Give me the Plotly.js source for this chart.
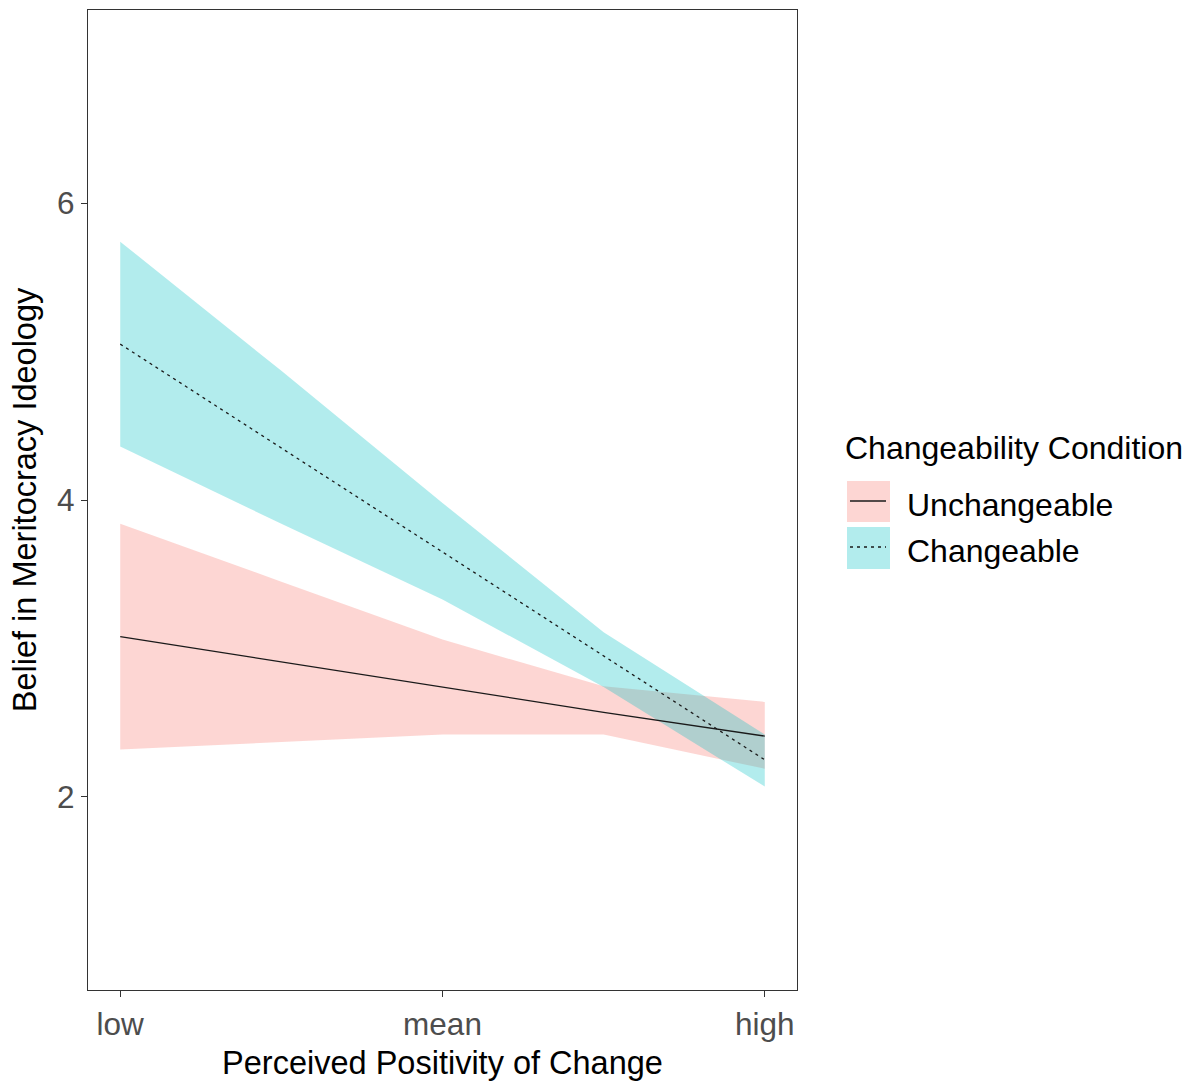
<!DOCTYPE html>
<html>
<head>
<meta charset="utf-8">
<script src="https://cdn.plot.ly/plotly-3.0.1.min.js"></script>
<style>html,body{margin:0;padding:0;background:#fff;}</style>
</head>
<body>
<div id="chart" style="width:1191px;height:1082px;"></div>
<script>
// ---- data ----
const xVals = [-1, -0.5, 0, 0.5, 1];
const tickVals = [-1, 0, 1];
const tickLabels = ['low', 'mean', 'high'];
const yTickVals = [2, 4, 6];
const groups = ['Unchangeable', 'Changeable'];
const unchFit = [3.08, 2.91, 2.74, 2.57, 2.41];
const unchUpper = [3.84, 3.45, 3.06, 2.745, 2.64];
const unchLower = [2.32, 2.37, 2.42, 2.42, 2.19];
const chgFit = [5.05, 4.35, 3.65, 2.95, 2.25];
const chgUpper = [5.74, 4.87, 3.98, 3.11, 2.42];
const chgLower = [4.36, 3.84, 3.33, 2.74, 2.07];

const FONT = '"Liberation Sans", Arial, sans-serif';
const pink = 'rgba(248,118,109,0.3)';
const cyan = 'rgba(0,191,196,0.3)';

function ribbon(upper, lower, color, name) {
  return {
    x: xVals.concat(xVals.slice().reverse()),
    y: upper.concat(lower.slice().reverse()),
    type: 'scatter', mode: 'none', fill: 'toself', fillcolor: color,
    hoverinfo: 'skip', showlegend: false, name: name
  };
}

const traces = [
  ribbon(unchUpper, unchLower, pink, groups[0]),
  ribbon(chgUpper, chgLower, cyan, groups[1]),
  {x: xVals, y: unchFit, type: 'scatter', mode: 'lines', name: groups[0],
   line: {color: '#1a1a1a', width: 1.3, dash: 'solid'}, showlegend: false},
  {x: xVals, y: chgFit, type: 'scatter', mode: 'lines', name: groups[1],
   line: {color: '#1a1a1a', width: 1.3, dash: '3px,4px'}, showlegend: false}
];

// plot area in pixels
const L = 88, R = 797, T = 10, B = 990;
const px = x => (x - L) / (R - L);
const py = y => (B - y) / (B - T);

const shapes = [
  {type: 'rect', xref: 'paper', yref: 'paper', x0: px(847), x1: px(890), y0: py(481), y1: py(522),
   fillcolor: pink, line: {width: 0}},
  {type: 'rect', xref: 'paper', yref: 'paper', x0: px(847), x1: px(890), y0: py(527), y1: py(569),
   fillcolor: cyan, line: {width: 0}},
  {type: 'line', xref: 'paper', yref: 'paper', x0: px(850), x1: px(886), y0: py(501), y1: py(501),
   line: {color: '#1a1a1a', width: 1.3}},
  {type: 'line', xref: 'paper', yref: 'paper', x0: px(850), x1: px(886), y0: py(547), y1: py(547),
   line: {color: '#1a1a1a', width: 1.3, dash: '3px,4px'}}
];

const annotations = [
  {xref: 'paper', yref: 'paper', x: px(843), y: py(448), xanchor: 'left', yanchor: 'middle',
   text: 'Changeability Condition', showarrow: false, font: {family: FONT, size: 32, color: '#000'}},
  {xref: 'paper', yref: 'paper', x: px(905), y: py(505), xanchor: 'left', yanchor: 'middle',
   text: groups[0], showarrow: false, font: {family: FONT, size: 32, color: '#000'}},
  {xref: 'paper', yref: 'paper', x: px(905), y: py(551), xanchor: 'left', yanchor: 'middle',
   text: groups[1], showarrow: false, font: {family: FONT, size: 32, color: '#000'}}
];

const layout = {
  width: 1191, height: 1082,
  margin: {l: L, r: 1191 - R, t: T, b: 1082 - B, pad: 0},
  paper_bgcolor: '#fff', plot_bgcolor: '#fff',
  showlegend: false,
  font: {family: FONT},
  xaxis: {
    range: [-1.1, 1.1], tickmode: 'array', tickvals: tickVals, ticktext: tickLabels,
    showgrid: false, zeroline: false, showline: true, mirror: true, linecolor: '#333', linewidth: 1.3,
    ticks: 'outside', ticklen: 6, tickcolor: '#333', tickwidth: 1.3,
    tickfont: {family: FONT, size: 31.5, color: '#4d4d4d'},
    title: {text: 'Perceived Positivity of Change', font: {family: FONT, size: 32.5, color: '#000'}, standoff: 10}
  },
  yaxis: {
    range: [0.7, 7.3], tickmode: 'array', tickvals: yTickVals,
    showgrid: false, zeroline: false, showline: true, mirror: true, linecolor: '#333', linewidth: 1.3,
    ticks: 'outside', ticklen: 6, tickcolor: '#333', tickwidth: 1.3,
    tickfont: {family: FONT, size: 31.5, color: '#4d4d4d'},
    title: {text: 'Belief in Meritocracy Ideology', font: {family: FONT, size: 32.5, color: '#000'}, standoff: 10}
  },
  shapes: shapes,
  annotations: annotations
};

Plotly.newPlot('chart', traces, layout, {displayModeBar: false, responsive: false});
</script>
</body>
</html>
